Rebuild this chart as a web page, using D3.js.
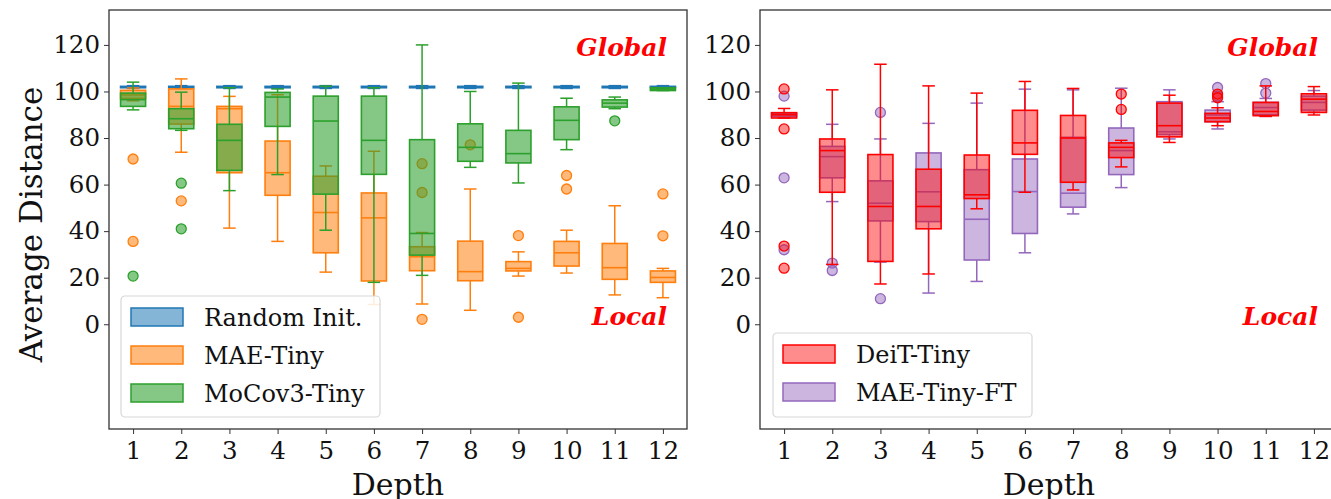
<!DOCTYPE html>
<html>
<head>
<meta charset="utf-8">
<script src="https://cdn.jsdelivr.net/npm/d3@7"></script>
<style>
  body { margin: 0; background: #fff; }
  text { font-family: 'DejaVu Serif', serif; }
</style>
</head>
<body>
<div id="chart"></div>
<script>
const depths = [1, 2, 3, 4, 5, 6, 7, 8, 9, 10, 11, 12]
const yTicks = [0, 20, 40, 60, 80, 100, 120]

// each row: [lower whisker, q1, median, q3, upper whisker]
const randomInit = [
  [101.3, 101.6, 101.9, 102.2, 102.5], [101.3, 101.6, 101.9, 102.2, 102.5],
  [101.3, 101.6, 101.9, 102.2, 102.5], [101.3, 101.6, 101.9, 102.2, 102.5],
  [101.3, 101.6, 101.9, 102.2, 102.5], [101.3, 101.6, 101.9, 102.2, 102.5],
  [101.3, 101.6, 101.9, 102.2, 102.5], [101.3, 101.6, 101.9, 102.2, 102.5],
  [101.3, 101.6, 101.9, 102.2, 102.5], [101.3, 101.6, 101.9, 102.2, 102.5],
  [101.3, 101.6, 101.9, 102.2, 102.5], [101.3, 101.6, 101.9, 102.2, 102.5]
]
const randomInitOut = [[], [], [], [], [], [], [], [], [], [], [], []]

const maeTiny = [
  [96, 97, 98.5, 100.5, 101.5], [73.9, 86, 93.6, 101.1, 105.4],
  [41.3, 65.1, 92.6, 93.6, 97.9], [35.6, 55.4, 65.1, 78.7, 98.6],
  [22.4, 30.7, 48, 63.6, 68], [8.5, 18.6, 45.7, 56.4, 74.3],
  [8.7, 23, 29, 33.3, 39.4], [6, 18.7, 22.6, 35.7, 58.1],
  [20.7, 22.9, 24, 26.9, 31.1], [22, 25, 30.7, 35.6, 40.4],
  [12.6, 19.3, 24.3, 34.7, 50.9], [11.4, 18, 20.1, 22.9, 24]
]
const maeTinyOut = [[71, 35.6], [53], [], [], [], [], [69, 56.6, 2.1], [77.1], [38.1, 3], [63.9, 58.1], [], [56, 38]]

const mocoTiny = [
  [92.1, 93.6, 96.5, 99.3, 104], [83.3, 84, 88.3, 92.6, 99.7],
  [57.4, 66.1, 79, 85.9, 101.6], [64.3, 85, 97.6, 99.6, 101.1],
  [40.4, 55.9, 87.3, 98, 102.3], [18, 64.4, 79, 98, 101.6],
  [21, 29.7, 39, 79.3, 120], [67.4, 70, 76, 86.1, 100],
  [60.7, 69.3, 73.3, 83.3, 103.6], [75, 79.3, 87.6, 93.4, 97.1],
  [92.6, 93.3, 95, 96.4, 97.6], [100.4, 100.4, 101, 101.6, 101.6]
]
const mocoTinyOut = [[20.7], [60.6, 41], [], [], [], [], [], [], [], [], [87.4], []]

const deitTiny = [
  [88.6, 88.6, 90, 90.9, 92.7], [25.7, 56.7, 74.6, 79.6, 100.7],
  [17.3, 27, 50.6, 72.9, 111.7], [21.6, 41, 50.6, 66.6, 102.4],
  [49.6, 54, 55.6, 72.7, 99.3], [56.7, 73, 77.9, 91.9, 104.3],
  [57.7, 61, 80, 89.7, 101.3], [67.6, 71.6, 76, 77.9, 79],
  [78.1, 80.5, 85.3, 95, 98.4], [85.3, 87, 88.6, 90.6, 93],
  [89.3, 89.6, 91.4, 95.3, 102.4], [89.9, 91, 96.7, 99, 102.1]
]
const deitTinyOut = [[101.1, 83.9, 33.6, 24.1], [], [], [], [], [], [], [98.9, 92.3], [], [98.9, 97.3], [], []]

const maeTinyFt = [
  [89.3, 89.3, 90, 90.7, 90.7], [52.7, 62.9, 72, 76.4, 85.9],
  [26.7, 44.4, 52, 61.6, 79.6], [13.4, 44.1, 56.9, 73.6, 86.3],
  [18.4, 27.6, 45.1, 66.4, 95], [30.7, 39, 57, 71, 101],
  [47.4, 50.3, 56.3, 80.3, 100.7], [58.7, 64.3, 74.6, 84.3, 101.4],
  [79.6, 81.5, 82.7, 95.6, 100.7], [83.9, 87, 89.9, 92, 95.6],
  [89.3, 90, 93.1, 95.3, 97], [91, 92, 95.3, 98, 100.4]
]
const maeTinyFtOut = [[98, 62.9, 32], [26.3, 23.1], [91, 11], [], [], [], [], [], [], [101.7, 98.1], [103.4, 99.3], []]

const leftSeries = [
  { name: 'Random Init.', stats: randomInit, out: randomInitOut, color: '#1f77b4', op: 0.55 },
  { name: 'MAE-Tiny', stats: maeTiny, out: maeTinyOut, color: '#ff7f0e', op: 0.55 },
  { name: 'MoCov3-Tiny', stats: mocoTiny, out: mocoTinyOut, color: '#2ca02c', op: 0.58 }
]
const rightSeries = [
  { name: 'MAE-Tiny-FT', stats: maeTinyFt, out: maeTinyFtOut, color: '#9467bd', op: 0.48 },
  { name: 'DeiT-Tiny', stats: deitTiny, out: deitTinyOut, color: '#ff0000', op: 0.45 }
]

const width = 1331
const height = 499
const panelW = 578
const panelH = 419

const svg = d3.select('#chart').append('svg')
  .attr('width', width)
  .attr('height', height)

const x = d3.scaleLinear().domain([0.5, 12.5]).range([0, panelW])
const y = d3.scaleLinear().domain([-45, 135]).range([panelH, 0])
const boxW = x(1.26) - x(0.74)
const capW = boxW / 2

const drawPanel = (left, series, legendOrder, legendBox, showYLabel) => {
  const g = svg.append('g').attr('transform', `translate(${left},10)`)

  // boxes
  series.forEach((s) => {
    const sg = g.append('g')
    s.stats.forEach((d, i) => {
      const cx = x(depths[i])
      const [lo, q1, med, q3, hi] = d
      sg.append('line').attr('x1', cx).attr('x2', cx).attr('y1', y(q1)).attr('y2', y(lo))
        .attr('stroke', s.color).attr('stroke-width', 1.5)
      sg.append('line').attr('x1', cx).attr('x2', cx).attr('y1', y(q3)).attr('y2', y(hi))
        .attr('stroke', s.color).attr('stroke-width', 1.5)
      sg.append('line').attr('x1', cx - capW / 2).attr('x2', cx + capW / 2).attr('y1', y(lo)).attr('y2', y(lo))
        .attr('stroke', s.color).attr('stroke-width', 1.5)
      sg.append('line').attr('x1', cx - capW / 2).attr('x2', cx + capW / 2).attr('y1', y(hi)).attr('y2', y(hi))
        .attr('stroke', s.color).attr('stroke-width', 1.5)
      sg.append('rect')
        .attr('x', cx - boxW / 2).attr('width', boxW)
        .attr('y', y(q3)).attr('height', Math.max(1, y(q1) - y(q3)))
        .attr('fill', s.color).attr('fill-opacity', s.op)
        .attr('stroke', s.color).attr('stroke-width', 1.6)
      sg.append('line').attr('x1', cx - boxW / 2).attr('x2', cx + boxW / 2).attr('y1', y(med)).attr('y2', y(med))
        .attr('stroke', s.color).attr('stroke-width', 1.6)
      s.out[i].forEach((v) => {
        sg.append('circle').attr('cx', cx).attr('cy', y(v)).attr('r', 5)
          .attr('fill', s.color).attr('fill-opacity', s.op)
          .attr('stroke', s.color).attr('stroke-width', 1.3)
      })
    })
  })

  // frame
  g.append('rect').attr('width', panelW).attr('height', panelH)
    .attr('fill', 'none').attr('stroke', '#333').attr('stroke-width', 1.3)

  // axes
  const yAxis = g.append('g').call(d3.axisLeft(y).tickValues(yTicks).tickSize(5).tickPadding(4))
  yAxis.select('.domain').remove()
  yAxis.selectAll('text').attr('font-size', 24.5).attr('fill', '#111').attr('font-family', "'DejaVu Serif', serif")
  yAxis.selectAll('line').attr('stroke', '#333')

  const xAxis = g.append('g').attr('transform', `translate(0,${panelH})`)
    .call(d3.axisBottom(x).tickValues(depths).tickFormat(d3.format('d')).tickSize(5).tickPadding(8))
  xAxis.select('.domain').remove()
  xAxis.selectAll('text').attr('font-size', 24.5).attr('fill', '#111').attr('font-family', "'DejaVu Serif', serif")
  xAxis.selectAll('line').attr('stroke', '#333')

  g.append('text').attr('x', panelW / 2).attr('y', panelH + 66)
    .attr('text-anchor', 'middle').attr('font-size', 30).attr('fill', '#111').text('Depth')

  if (showYLabel) {
    g.append('text').attr('transform', `translate(${-67},${panelH / 2 + 5}) rotate(-90)`)
      .attr('text-anchor', 'middle').attr('font-size', 31).attr('fill', '#111').text('Average Distance')
  }

  // annotations
  g.append('text').attr('x', panelW - 20).attr('y', 46).attr('text-anchor', 'end')
    .attr('font-size', 25).attr('font-weight', 'bold').attr('font-style', 'italic')
    .attr('fill', '#ff0000').text('Global')
  g.append('text').attr('x', panelW - 20).attr('y', 315).attr('text-anchor', 'end')
    .attr('font-size', 25).attr('font-weight', 'bold').attr('font-style', 'italic')
    .attr('fill', '#ff0000').text('Local')

  // legend
  const lg = g.append('g').attr('transform', `translate(${legendBox.x},${legendBox.y})`)
  lg.append('rect').attr('width', legendBox.w).attr('height', legendBox.h).attr('rx', 4)
    .attr('fill', '#fff').attr('fill-opacity', 0.85).attr('stroke', '#d8d8d8').attr('stroke-width', 1.2)
  legendOrder.forEach((s, i) => {
    const row = lg.append('g').attr('transform', `translate(10,${12 + i * 38})`)
    row.append('rect').attr('width', 52).attr('height', 18)
      .attr('fill', s.color).attr('fill-opacity', s.op)
      .attr('stroke', s.color).attr('stroke-width', 1.5)
    row.append('text').attr('x', 73).attr('y', 18).attr('font-size', 24).attr('fill', '#111').text(s.name)
  })
}

drawPanel(109, leftSeries, leftSeries, { x: 12, y: 286, w: 259, h: 121 }, true)
drawPanel(760, rightSeries, [rightSeries[1], rightSeries[0]], { x: 13, y: 323, w: 259, h: 84 }, false)
</script>
</body>
</html>
